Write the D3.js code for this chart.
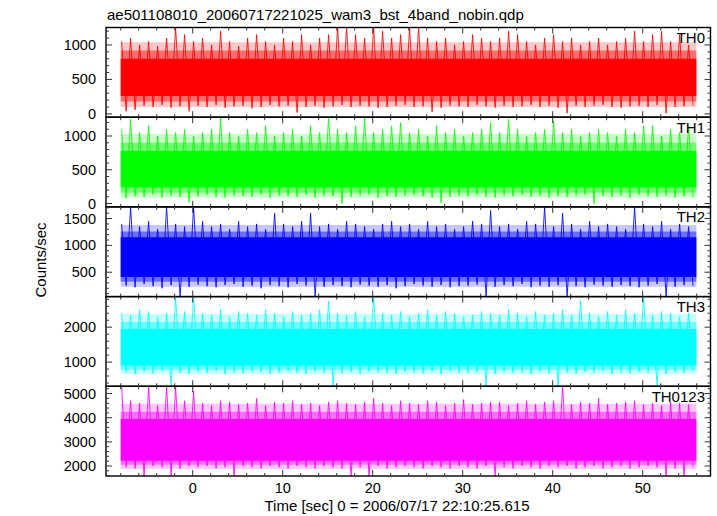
<!DOCTYPE html>
<html><head><meta charset="utf-8">
<script src="https://cdn.jsdelivr.net/npm/d3@7"></script>
<style>body{margin:0;background:#fff} svg{display:block} text{font-family:"Liberation Sans",Arial,Helvetica,sans-serif;fill:#000}</style>
</head><body><svg id="c" width="717" height="516"></svg>
<script>
const title = "ae501108010_20060717221025_wam3_bst_4band_nobin.qdp";
const xLabel = "Time [sec] 0 = 2006/07/17 22:10:25.615";
const yLabel = "Counts/sec";
const panelNames = ["TH0","TH1","TH2","TH3","TH0123"];
const panelColors = ["#ff0000","#00ff00","#0000ff","#00ffff","#ff00ff"];
const binStart = -8;      // start of first 1-s bin (sec)
const dataEnd = 55.96;    // end of the light curve (sec)
const xMajorTicks = [0,10,20,30,40,50];
const xMinorTicks = [-8,-6,-4,-2,0,2,4,6,8,10,12,14,16,18,20,22,24,26,28,30,32,34,36,38,40,42,44,46,48,50,52,54,56];
const yDomains = [[-48,1253],[-50,1279],[45,1717],[306,2877],[1587,5300]];
const yMajorTicks = [[0,500,1000],[0,500,1000],[500,1000,1500],[1000,2000],[2000,3000,4000,5000]];
const yMinorStep = [100,100,100,200,200];
// dense core of the noise (solid), inner and outer fringes, counts/sec
const coreLo = [260,240,410,900,2220];
const coreHi = [800,780,1150,1950,3950];
const innerLo = [180,160,320,780,2050];
const innerHi = [920,900,1260,2150,4250];
const outerLo = [100,90,230,660,1880];
const outerHi = [1040,1030,1380,2380,4580];
// per 1-s bin extremes
const th0Hi = [1050,1100,1000,1050,980,1100,1253,1150, 1050,1100,1000,1200,1050,980,1100,1150, 1050,1000,1100,1050,1150,1000,1100,1150, 1260,1260,1150,1100,1260,1200,1100,1150, 1250,1260,1100,1050,1100,1000,1050,1150, 1100,1050,1100,1200,1150,1050,1000,1100, 1150,1050,1100,1000,1050,1100,1000,1050, 1100,1200,1050,1150,1200,1050,1150,1000];
const th0Lo = [40,60,120,100,130,90,110,40, 120,100,130,90,110,120,80,100, 130,110,120,20,100,120,90,110, 130,100,120,110,90,100,120,130, 100,110,30,90,120,110,100,130, 110,90,120,100,110,130,100,120, 90,10,120,100,120,130,100,90, 110,120,100,130,10,100,110,120];
const th1Hi = [1100,1250,1050,1150,1000,1100,1050,1100, 1000,1050,1100,1270,1050,1000,1100,1050, 1150,1000,1050,1100,1000,1150,1050,1280, 1100,1050,1150,1270,1050,1100,1150,1200, 1050,1100,1000,1150,1050,1100,1000,1050, 1100,1200,1050,1250,1100,1000,1050,1100, 1220,1050,1100,1000,1050,1100,1050,1000, 1100,1050,1150,1150,1000,1100,1050,1150];
const th1Lo = [80,110,100,130,90,120,100,20, 110,130,100,90,120,110,100,130, 90,120,110,100,130,90,120,110, 0,100,120,130,90,110,100,120, 130,110,90,10,100,120,110,130, 100,90,120,110,130,100,120,90, 110,100,120,130,0,110,100,120, 90,130,110,100,120,90,110,100];
const th2Hi = [1400,1717,1350,1450,1300,1717,1400,1350, 1717,1450,1350,1400,1300,1450,1350,1400, 1300,1600,1400,1350,1450,1600,1350,1400, 1300,1450,1400,1350,1300,1400,1450,1350, 1400,1300,1450,1350,1400,1300,1350,1450, 1400,1650,1350,1400,1300,1450,1400,1717, 1350,1600,1400,1300,1450,1350,1400,1350, 1300,1717,1400,1350,1450,1300,1400,1350];
const th2Lo = [250,220,280,240,200,260,50,230, 270,240,220,260,280,230,250,200, 260,240,220,280,250,50,230,260, 240,220,270,250,230,260,200,240, 280,250,230,260,220,240,250,270, 50,230,260,240,280,220,250,230, 260,50,240,220,270,250,230,260, 240,220,250,280,50,230,260,240];
const th3Hi = [2400,2350,2500,2450,2300,2400,2877,2450, 2877,2400,2350,2500,2300,2450,2400,2350, 2500,2400,2300,2450,2350,2400,2500,2750, 2400,2350,2450,2300,2877,2400,2350,2450, 2300,2400,2500,2350,2450,2400,2300,2350, 2450,2400,2350,2500,2400,2300,2450,2350, 2400,2500,2350,2750,2400,2300,2450,2350, 2500,2400,2877,2350,2450,2400,2300,2400];
const th3Lo = [700,650,720,680,750,306,700,660, 720,690,740,650,700,680,730,710, 660,700,740,690,650,720,700,306, 680,710,650,730,700,690,660,720, 700,680,720,650,740,700,690,710, 306,660,720,690,700,650,730,680, 306,700,660,720,690,740,650,700, 680,720,700,306,650,710,690,730];
const th0123Hi = [5300,4700,4600,5300,4500,5300,5300,4700, 5100,4600,4500,4700,4650,4550,4600,4800, 4500,4650,4600,4700,4550,4600,4500,4650, 4700,4600,4550,4650,4800,4600,4500,4700, 4600,4550,4700,4650,4500,4600,4750,4550, 4600,4650,4650,4500,4600,4700,4550,4650, 4700,5300,4550,4650,4600,4800,4550,4600, 4650,4700,4550,4600,4500,4650,4600,4550];
const th0123Lo = [1950,1900,1587,2000,1950,1587,1900,2000, 1950,2000,1900,1950,1587,2000,1950,1900, 2000,1950,1900,2000,1950,1900,2000,1950, 1900,1587,1950,1587,2000,1900,1950,2000, 1950,1900,2000,1950,1900,2000,1950,1900, 2000,1587,1950,1900,2000,1950,1900,2000, 1950,2000,1900,1950,2000,1900,1950,2000, 1900,1950,2000,1950,1587,1900,1587,1950];
const hiSeries = [th0Hi,th1Hi,th2Hi,th3Hi,th0123Hi];
const loSeries = [th0Lo,th1Lo,th2Lo,th3Lo,th0123Lo];

const svg = d3.select("#c");
const L = 106, R = 710.5, T = 27.5, B = 476;
const ph = (B - T) / 5;
const x = d3.scaleLinear().domain([(L-192.7)/9, (R-192.7)/9]).range([L, R]);
const FS = 14.5;

svg.append("text").attr("x", 107).attr("y", 20).attr("font-size", 15).text(title);
svg.append("text").attr("x", 397).attr("y", 511).attr("font-size", 15).attr("text-anchor","middle").text(xLabel);
svg.append("text").attr("transform","translate(46,260) rotate(-90)").attr("font-size", 15).attr("text-anchor","middle").text(yLabel);

panelNames.forEach((name, p) => {
  const top = T + p*ph, bot = top + ph;
  const y = d3.scaleLinear().domain(yDomains[p]).range([bot, top]);
  const col = panelColors[p];
  const g = svg.append("g");
  const cid = "clip"+p;
  svg.append("clipPath").attr("id", cid).append("rect").attr("x", L).attr("y", top).attr("width", R-L).attr("height", ph);
  const dg = g.append("g").attr("clip-path", `url(#${cid})`);
  const span = [binStart, dataEnd];
  const band = (lo, hi, op) => dg.append("path").datum(span)
    .attr("d", d3.area().x(d=>x(d)).y0(y(lo)).y1(y(hi)))
    .attr("fill", col).attr("fill-opacity", op);
  band(outerLo[p], outerHi[p], 0.22);
  band(innerLo[p], innerHi[p], 0.45);
  band(coreLo[p], coreHi[p], 1);
  const pts = [];
  hiSeries[p].forEach((v,i) => {
    pts.push([binStart + i + 0.1, v]);
    pts.push([binStart + i + 0.6, loSeries[p][i]]);
  });
  dg.append("path").datum(pts)
    .attr("d", d3.line().x(d=>x(d[0])).y(d=>y(d[1])))
    .attr("fill","none").attr("stroke", col).attr("stroke-width", 1).attr("stroke-opacity", 0.85);

  // frame
  g.append("rect").attr("x", L).attr("y", top).attr("width", R-L).attr("height", ph)
    .attr("fill","none").attr("stroke","#000").attr("stroke-width",1.4);
  // y ticks
  const [d0,d1] = yDomains[p];
  const minor = d3.range(Math.ceil(d0/yMinorStep[p])*yMinorStep[p], d1, yMinorStep[p]);
  minor.forEach(v => {
    const major = yMajorTicks[p].includes(v);
    const len = major ? 6 : 3;
    g.append("line").attr("x1", L).attr("x2", L+len).attr("y1", y(v)).attr("y2", y(v)).attr("stroke","#333").attr("stroke-width",1);
    g.append("line").attr("x1", R).attr("x2", R-len).attr("y1", y(v)).attr("y2", y(v)).attr("stroke","#333").attr("stroke-width",1);
  });
  yMajorTicks[p].forEach(v => {
    g.append("text").attr("x", 96).attr("y", y(v)).attr("dy","0.35em").attr("text-anchor","end").attr("font-size",FS).text(v);
  });
  // x ticks on top and bottom edges
  xMinorTicks.forEach(v => {
    const len = xMajorTicks.includes(v) ? 6 : 3;
    g.append("line").attr("x1", x(v)).attr("x2", x(v)).attr("y1", top).attr("y2", top+len).attr("stroke","#333").attr("stroke-width",1);
    g.append("line").attr("x1", x(v)).attr("x2", x(v)).attr("y1", bot).attr("y2", bot-len).attr("stroke","#333").attr("stroke-width",1);
  });
  g.append("text").attr("x", 705).attr("y", top+15.5).attr("text-anchor","end").attr("font-size",15).text(name);
});
xMajorTicks.forEach(v => {
  svg.append("text").attr("x", x(v)).attr("y", 493).attr("text-anchor","middle").attr("font-size",FS).text(v);
});
</script></body></html>
